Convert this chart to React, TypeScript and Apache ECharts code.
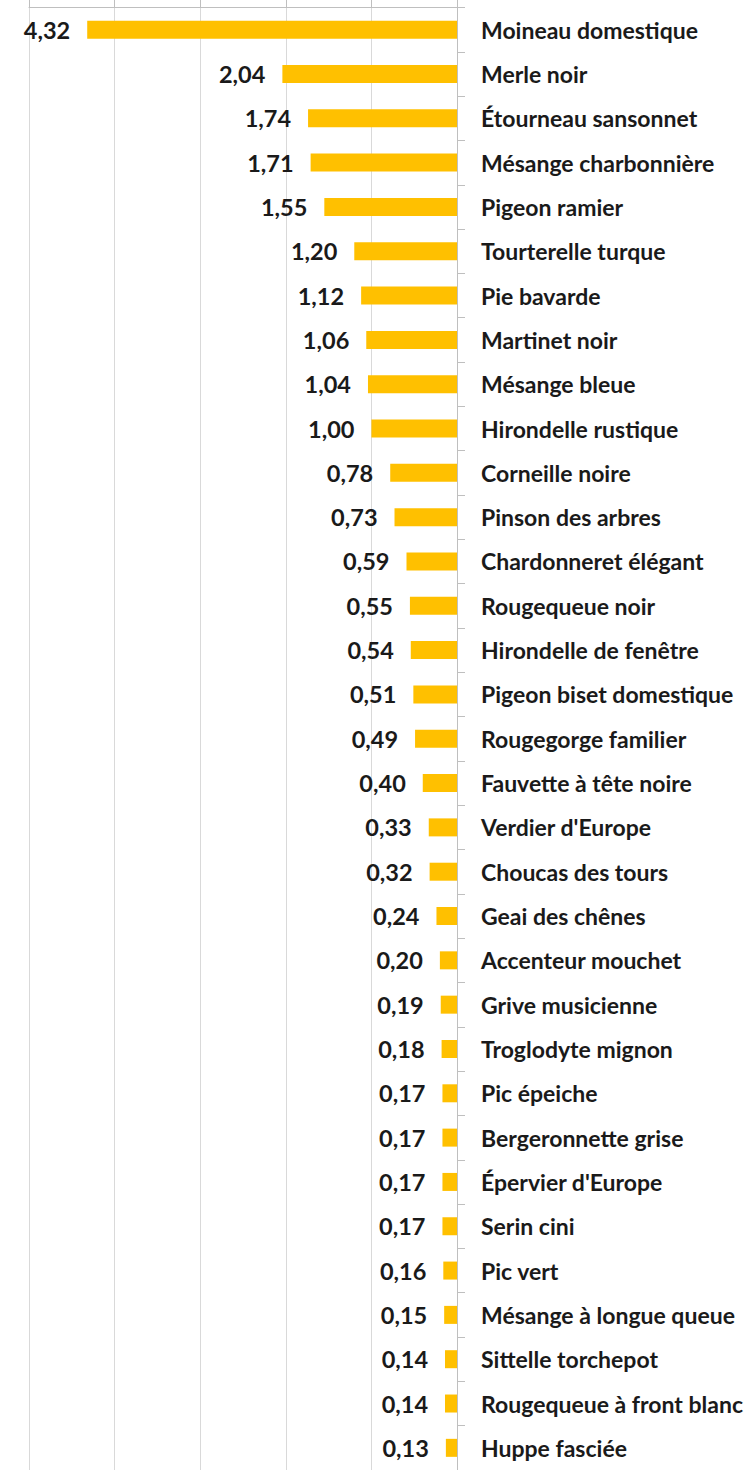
import React, { useEffect, useRef } from "react";
import * as echarts from "echarts";

const categories: string[] = [
  "Moineau domestique",
  "Merle noir",
  "Étourneau sansonnet",
  "Mésange charbonnière",
  "Pigeon ramier",
  "Tourterelle turque",
  "Pie bavarde",
  "Martinet noir",
  "Mésange bleue",
  "Hirondelle rustique",
  "Corneille noire",
  "Pinson des arbres",
  "Chardonneret élégant",
  "Rougequeue noir",
  "Hirondelle de fenêtre",
  "Pigeon biset domestique",
  "Rougegorge familier",
  "Fauvette à tête noire",
  "Verdier d'Europe",
  "Choucas des tours",
  "Geai des chênes",
  "Accenteur mouchet",
  "Grive musicienne",
  "Troglodyte mignon",
  "Pic épeiche",
  "Bergeronnette grise",
  "Épervier d'Europe",
  "Serin cini",
  "Pic vert",
  "Mésange à longue queue",
  "Sittelle torchepot",
  "Rougequeue à front blanc",
  "Huppe fasciée",
];

const values: number[] = [
  4.32, 2.04, 1.74, 1.71, 1.55, 1.2, 1.12, 1.06, 1.04, 1.0, 0.78, 0.73, 0.59,
  0.55, 0.54, 0.51, 0.49, 0.4, 0.33, 0.32, 0.24, 0.2, 0.19, 0.18, 0.17, 0.17,
  0.17, 0.17, 0.16, 0.15, 0.14, 0.14, 0.13,
];

const axisMin = 0;
const axisMax = 5;
const axisStep = 1;

export default function App() {
  const ref = useRef<HTMLDivElement>(null);
  useEffect(() => {
    document.body.style.margin = "0";
    if (!ref.current) return;
    const chart = echarts.init(ref.current, undefined, { renderer: "svg" });
    const font = "Lato, 'Noto Sans', sans-serif";
    chart.setOption({
      animation: false,
      backgroundColor: "#ffffff",
      grid: { left: 29, right: 292, top: 7.5, height: 1470.5, containLabel: false },
      xAxis: {
        type: "value",
        inverse: true,
        position: "top",
        min: axisMin,
        max: axisMax,
        interval: axisStep,
        axisLine: { show: true, lineStyle: { color: "#bfbfbf", width: 1 } },
        axisTick: { show: true, length: 8, lineStyle: { color: "#bfbfbf" } },
        axisLabel: { show: false },
        splitLine: { show: true, lineStyle: { color: "#d9d9d9", width: 1 } },
      },
      yAxis: {
        type: "category",
        inverse: true,
        position: "right",
        data: categories,
        axisLine: { show: true, lineStyle: { color: "#bfbfbf", width: 1 } },
        axisTick: { show: true, length: 8, lineStyle: { color: "#bfbfbf" } },
        axisLabel: {
          margin: 24,
          color: "#1a1a1a",
          fontWeight: "bold",
          fontSize: 23,
          fontFamily: font,
        },
        splitLine: { show: false },
      },
      series: [
        {
          type: "bar",
          data: values,
          barWidth: 18,
          itemStyle: { color: "#FFC000" },
          label: {
            show: true,
            position: "left",
            distance: 17,
            color: "#1a1a1a",
            fontWeight: "bold",
            fontSize: 23.5,
            fontFamily: font,
            formatter: (p: any) => Number(p.value).toFixed(2).replace(".", ","),
          },
        },
      ],
    });
    return () => chart.dispose();
  }, []);
  return <div ref={ref} style={{ width: 749, height: 1470 }} />;
}
